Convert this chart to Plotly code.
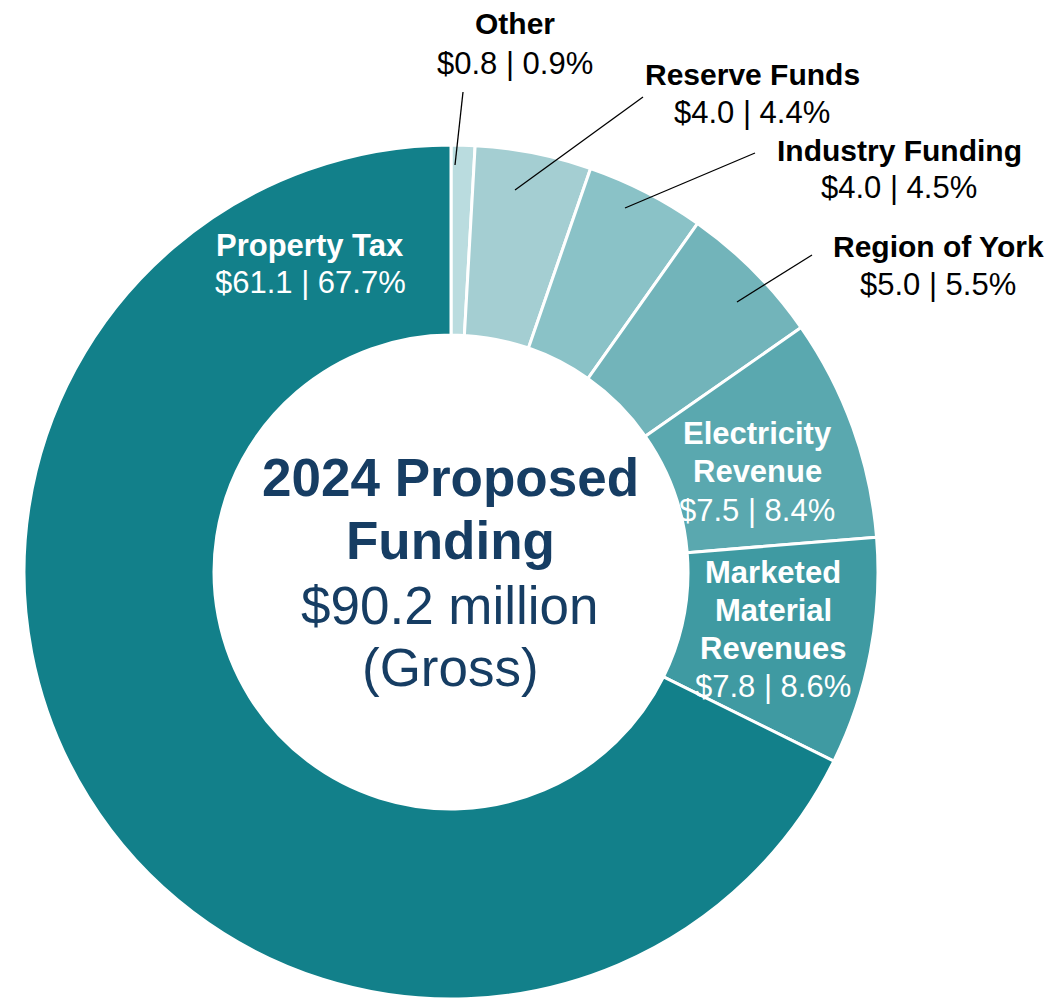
import plotly.graph_objects as go

# funding sources, clockwise from 12 o'clock
categories = ["Other", "Reserve Funds", "Industry Funding", "Region of York",
              "Electricity Revenue", "Marketed Material Revenues", "Property Tax"]
amounts = [0.8, 4.0, 4.0, 5.0, 7.5, 7.8, 61.1]      # $ millions
shares = [0.9, 4.4, 4.5, 5.5, 8.4, 8.6, 67.7]       # percent of total
total = "$90.2 million"

colors = ["#BADCDF", "#A4CED2", "#8AC2C7", "#72B4BA", "#5AA8AF", "#3F9AA2", "#12808A"]

W, H = 1063, 1000
OFF = 8  # page body margin in the browser
FONT = "Liberation Sans, Arial, sans-serif"
NAVY = "#163D63"

# label layout: (category, name lines, centre x, first line y, line gap, name size, value size, colour)
label_layout = [
    ("Other", ["Other"], 515, 23, 40, 30, 31, "black"),
    ("Reserve Funds", ["Reserve Funds"], 752, 75, 38, 30, 31, "black"),
    ("Industry Funding", ["Industry Funding"], 899, 150, 38, 30, 31, "black"),
    ("Region of York", ["Region of York"], 938, 246, 38, 30, 31, "black"),
    ("Property Tax", ["Property Tax"], 310, 245, 37, 31, 31, "white"),
    ("Electricity Revenue", ["Electricity", "Revenue"], 757, 434, 38, 31, 31, "white"),
    ("Marketed Material Revenues", ["Marketed", "Material", "Revenues"], 773, 572, 38, 31, 31, "white"),
]

# leader lines for the outside labels (pixel ends)
leaders = [
    ((463, 92), (455, 165)),
    ((643, 97), (515, 190)),
    ((755, 153), (625, 208)),
    ((812, 255), (737, 302)),
]


def px(x, y):
    return (x - OFF) / W, 1 - (y - OFF) / H


# donut: centre (451, 572), outer radius 427 in page pixels
cx, cy, r = 451, 572, 427
dx0, dy1 = px(cx - r, cy + r)
dx1, dy0 = px(cx + r, cy - r)

fig = go.Figure(go.Pie(
    labels=categories,
    values=shares,
    sort=False,
    direction="clockwise",
    rotation=0,
    hole=0.555,
    textinfo="none",
    marker=dict(colors=colors, line=dict(color="white", width=3)),
    domain=dict(x=[dx0, dx1], y=[max(dy1, 0), dy0]),
    showlegend=False,
))

annotations = []


def add_text(x, y, text, size, color, bold=False):
    ax, ay = px(x, y)
    annotations.append(dict(
        x=ax, y=ay, xref="paper", yref="paper", showarrow=False,
        xanchor="center", yanchor="middle",
        text=f"<b>{text}</b>" if bold else text,
        font=dict(family=FONT, size=size, color=color),
    ))


for name, lines, lx, ly, gap, nsize, vsize, color in label_layout:
    i = categories.index(name)
    for k, line in enumerate(lines):
        add_text(lx, ly + k * gap, line, nsize, color, bold=True)
    value = f"${amounts[i]:.1f} | {shares[i]:.1f}%"
    add_text(lx, ly + len(lines) * gap, value, vsize, color)

# centre title
add_text(450, 477, "2024 Proposed", 53, NAVY, bold=True)
add_text(450, 540, "Funding", 53, NAVY, bold=True)
add_text(450, 605, total, 53, NAVY)
add_text(450, 667, "(Gross)", 53, NAVY)

shapes = []
for (x0, y0), (x1, y1) in leaders:
    a0, b0 = px(x0, y0)
    a1, b1 = px(x1, y1)
    shapes.append(dict(type="line", xref="paper", yref="paper",
                       x0=a0, y0=b0, x1=a1, y1=b1,
                       line=dict(color="black", width=1.3)))

fig.update_layout(
    width=W, height=H,
    margin=dict(l=0, r=0, t=0, b=0),
    paper_bgcolor="white",
    plot_bgcolor="white",
    annotations=annotations,
    shapes=shapes,
)

fig.write_html("out.html")
